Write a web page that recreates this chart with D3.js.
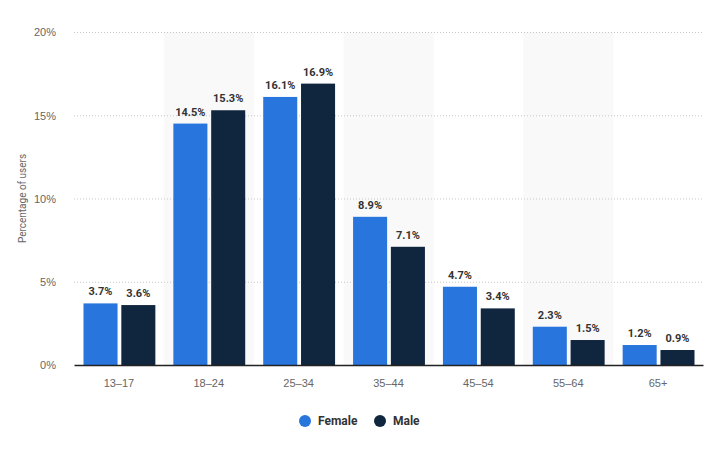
<!DOCTYPE html>
<html>
<head>
<meta charset="utf-8">
<script src="https://cdn.jsdelivr.net/npm/d3@7"></script>
<style>
	body { margin: 0; background: #fff; }
	svg { font-family: Roboto, "Open Sans", sans-serif; }
</style>
</head>
<body>
<div class="chart"></div>
<script>
const width = 715,
	height = 450;

const ageGroups = ["13-17", "18-24", "25-34", "35-44", "45-54", "55-64", "65+"];
const seriesNames = ["Female", "Male"];
const femaleValues = [3.7, 14.5, 16.1, 8.9, 4.7, 2.3, 1.2];
const maleValues = [3.6, 15.3, 16.9, 7.1, 3.4, 1.5, 0.9];
const yTicks = [0, 5, 10, 15, 20];

const colors = { Female: "#2876dd", Male: "#10263f" };

const margin = { top: 32, right: 12, bottom: 85, left: 74 };

const svg = d3
	.select(".chart")
	.append("svg")
	.attr("width", width)
	.attr("height", height);

const x = d3
	.scaleBand()
	.domain(ageGroups)
	.range([margin.left, width - margin.right]);

const xInner = d3
	.scaleBand()
	.domain(seriesNames)
	.range([9.5, x.bandwidth() - 8.5])
	.paddingInner(0.1);

const y = d3
	.scaleLinear()
	.domain([0, 20])
	.range([height - margin.bottom, margin.top]);

// alternating background bands
svg
	.append("g")
	.selectAll("rect")
	.data(ageGroups.filter((d, i) => i % 2 === 1))
	.join("rect")
	.attr("x", (d) => x(d))
	.attr("y", margin.top)
	.attr("width", x.bandwidth())
	.attr("height", y(0) - margin.top)
	.attr("fill", "#f9f9f9");

// gridlines
svg
	.append("g")
	.selectAll("line")
	.data(yTicks.filter((d) => d > 0))
	.join("line")
	.attr("x1", margin.left)
	.attr("x2", width - margin.right)
	.attr("y1", (d) => y(d) + 0.5)
	.attr("y2", (d) => y(d) + 0.5)
	.attr("stroke", "#c8c8c8")
	.attr("stroke-dasharray", "1,2");

// y tick labels
const yAxis = svg
	.append("g")
	.attr("transform", `translate(${margin.left - 15},0)`)
	.call(d3.axisLeft(y).tickValues(yTicks).tickFormat((d) => d + "%").tickSize(0));
yAxis.select(".domain").remove();
yAxis
	.selectAll("text")
	.attr("fill", "#666")
	.attr("font-size", 11)
	.attr("dy", "0.35em");

svg
	.append("text")
	.attr("transform", `translate(26,${(y(0) + y(20)) / 2}) rotate(-90)`)
	.attr("text-anchor", "middle")
	.attr("fill", "#666")
	.attr("font-size", 10)
	.text("Percentage of users");

const rows = ageGroups.map((g, i) => ({
	group: g,
	values: [
		{ key: "Female", value: femaleValues[i] },
		{ key: "Male", value: maleValues[i] },
	],
}));

const groups = svg
	.append("g")
	.selectAll("g")
	.data(rows)
	.join("g")
	.attr("transform", (d) => `translate(${x(d.group)},0)`);

groups
	.selectAll("rect")
	.data((d) => d.values)
	.join("rect")
	.attr("x", (d) => xInner(d.key))
	.attr("y", (d) => y(d.value))
	.attr("width", xInner.bandwidth())
	.attr("height", (d) => y(0) - y(d.value))
	.attr("fill", (d) => colors[d.key]);

groups
	.selectAll("text")
	.data((d) => d.values)
	.join("text")
	.attr("x", (d) => xInner(d.key) + xInner.bandwidth() / 2)
	.attr("y", (d) => y(d.value) - 8)
	.attr("text-anchor", "middle")
	.attr("font-size", 11)
	.attr("font-weight", "bold")
	.attr("fill", "#333")
	.text((d) => d.value.toFixed(1) + "%");

// x axis
const xAxis = svg
	.append("g")
	.attr("transform", `translate(0,${y(0)})`)
	.call(d3.axisBottom(x).tickSize(0).tickPadding(14));
xAxis.select(".domain").attr("stroke", "#222").attr("stroke-width", 1.5);
xAxis
	.selectAll("text")
	.attr("fill", "#666")
	.attr("font-size", 11)
	.text((d) => d.replace("-", "–"));

// legend
const legend = svg
	.append("g")
	.selectAll("g")
	.data(seriesNames)
	.join("g")
	.attr("transform", (d, i) => `translate(${[305, 380][i]},421)`);

legend
	.append("circle")
	.attr("r", 6)
	.attr("fill", (d) => colors[d]);

legend
	.append("text")
	.attr("x", 13)
	.attr("dy", "0.35em")
	.attr("font-size", 12)
	.attr("font-weight", "bold")
	.attr("fill", "#333")
	.text((d) => d);
</script>
</body>
</html>
